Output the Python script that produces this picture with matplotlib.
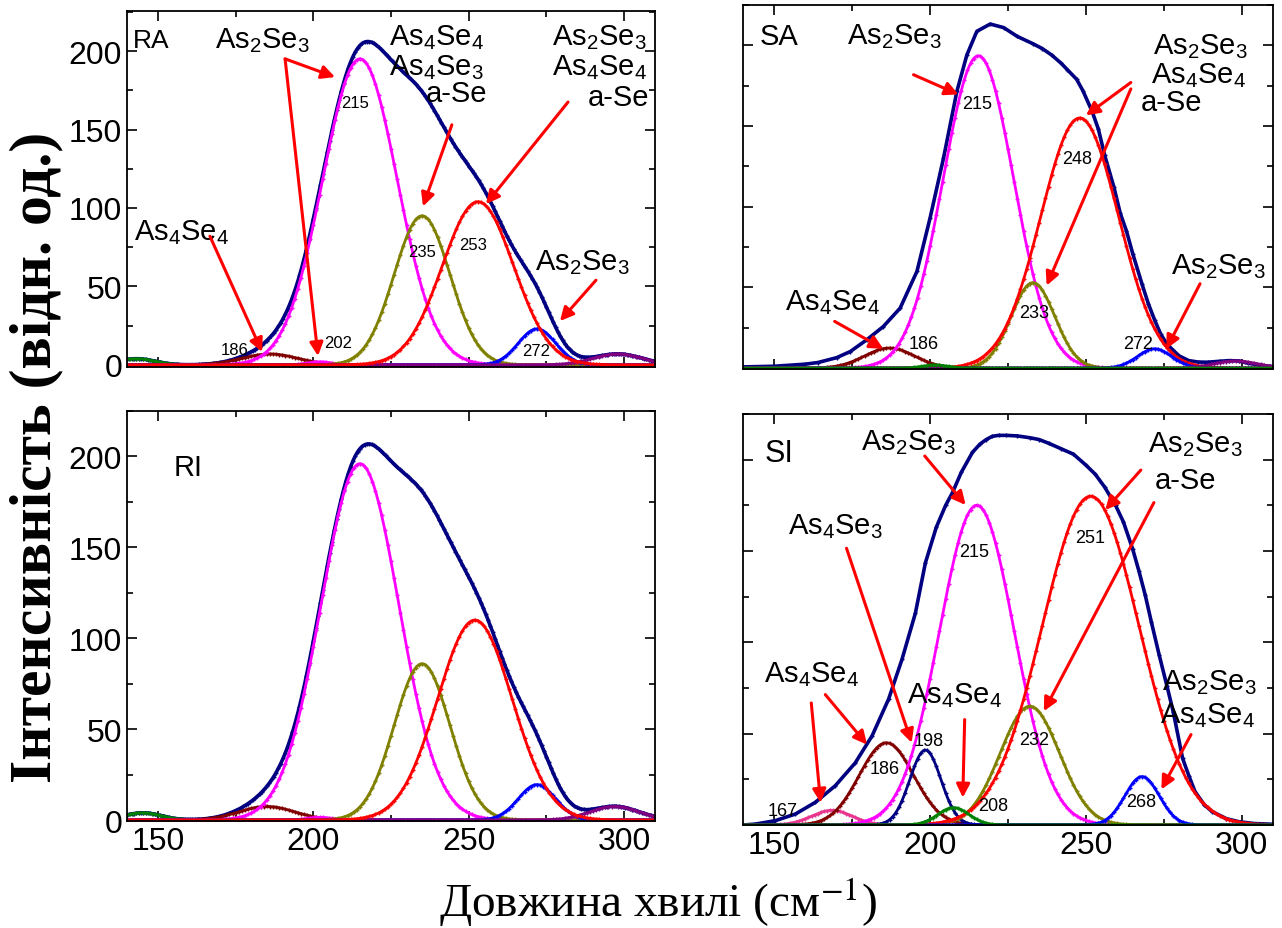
import numpy as np
import matplotlib.pyplot as plt
from matplotlib.ticker import MultipleLocator

plt.rcParams['mathtext.fontset'] = 'custom'
plt.rcParams['mathtext.rm'] = 'Liberation Sans'
plt.rcParams['mathtext.it'] = 'Liberation Sans:italic'

# Gaussian components: centre (cm-1), height, sigma
ra_centers = [143, 186, 202, 215, 235, 272, 298, 253]
ra_heights = [4, 7, 2, 195, 95, 23, 7, 104]
ra_widths = [6, 9, 4, 12, 9, 6, 8, 11.5]

ri_centers = [145, 185, 202, 215, 235, 272, 297, 252]
ri_heights = [4, 7.5, 1.5, 196, 86, 19.5, 7.5, 110]
ri_widths = [6, 9, 4, 12.5, 9, 6, 8, 12]

sa_centers = [187, 215.5, 233, 248, 272, 298, 201.5]
sa_heights = [12.5, 193.5, 53, 155, 12, 4.5, 2]
sa_widths = [8, 11.3, 7, 12.5, 5.5, 7, 4]

si_centers = [168.5, 186, 198.5, 215, 232, 251.5, 268, 207.5]
si_heights = [8, 45, 41, 175, 65, 180, 26.5, 9.5]
si_widths = [6.5, 8.7, 5, 12, 9.5, 15.5, 5.5, 5]

# measured envelopes of the S-panels (cm-1, intensity)
sa_env_x = [140, 150, 160, 164, 170, 174.4, 179.7, 185, 190.4, 195.8, 200, 204.3, 208.6,
            211.8, 215, 219.3, 223.6, 228, 233, 236, 239, 242, 244, 247, 249, 252, 254,
            256, 259, 261, 263, 265, 268, 270, 272, 274, 276, 278, 280, 283, 286, 289,
            293, 296, 299, 302, 306, 310]
sa_env_y = [0.8, 1.2, 2.5, 3.5, 6.5, 10.3, 17.6, 25.8, 37.2, 60, 93, 130, 171.5,
            194, 208.7, 213.2, 211, 205.5, 201, 198, 194, 189, 185, 179, 172, 159, 148,
            132, 112, 96, 85, 71, 52, 40, 30, 21, 15, 11, 7.5, 4.7, 3.8, 3.7,
            4.3, 4.7, 4.5, 3.1, 1.8, 1]

si_env_x = [140, 144, 150.4, 156.8, 163.2, 169.6, 176, 181.4, 186.7, 191, 195.3, 198.5,
            202, 205, 207.2, 210, 213.6, 216, 218, 220, 222, 224.5, 228, 232, 235, 238,
            242, 246, 250, 253, 256, 259.5, 262, 265, 267, 269, 271, 273.5, 276, 278,
            281, 283, 285, 288, 290.5, 295, 299, 304, 310]
si_env_y = [0, 0.5, 2.4, 6, 12.4, 21.5, 34, 48.8, 68.9, 90.7, 116, 143.5,
            163, 175, 182, 193, 204, 208.5, 211, 212.8, 213.3, 213.3, 213, 212, 211, 209,
            206, 203, 197, 192, 185, 175, 166, 151, 139, 126, 111, 93, 76, 62,
            36.5, 27, 18.2, 11, 7.3, 3.5, 1.8, 0.8, 0.4]

# styles
left_colors = ['green', '#800000', 'magenta', 'magenta', '#808000', 'blue', 'purple', 'red']
sa_colors = ['#800000', 'magenta', '#808000', 'red', 'blue', 'purple', 'green']
si_colors = ['#e8368f', '#800000', '#000080', 'magenta', '#808000', 'red', 'blue', 'green']
ENV = '#000080'

x = np.linspace(140, 310, 681)


def gauss(c, h, w):
    return h * np.exp(-(x - c) ** 2 / (2 * w ** 2))


def draw_panel(ax, centers, heights, widths, colors, ylim, env=None):
    comps = [gauss(c, h, w) for c, h, w in zip(centers, heights, widths)]
    if env is None:
        ax.plot(x, np.sum(comps, axis=0), color=ENV, lw=2.6, marker='+', ms=3, markevery=3)
    else:
        ax.plot(env[0], env[1], color=ENV, lw=2.6, marker='+', ms=3)
    for y, col in zip(comps, colors):
        ax.plot(x, y, color=col, lw=2, marker='+', ms=3, markevery=4)
    ax.set_xlim(140, 310)
    ax.set_ylim(*ylim)
    ax.xaxis.set_major_locator(MultipleLocator(50))
    ax.xaxis.set_minor_locator(MultipleLocator(25))
    ax.yaxis.set_major_locator(MultipleLocator(50))
    ax.yaxis.set_minor_locator(MultipleLocator(25))
    ax.tick_params(which='both', direction='in', top=True, right=True, width=1.2)
    ax.tick_params(which='major', length=7)
    ax.tick_params(which='minor', length=4)
    for s in ax.spines.values():
        s.set_linewidth(1.3)
    for lab in ax.get_xticklabels() + ax.get_yticklabels():
        lab.set_fontfamily(['Liberation Sans Narrow', 'Liberation Sans'])
        lab.set_fontsize(23)


def label(ax, items, size=21, **kw):
    for t, (xx, yy), ha in items:
        ax.text(xx, yy, t, fontsize=size, ha=ha, va='center', family='Liberation Sans', **kw)


def arrows(ax, items):
    for tail, tip in items:
        ax.annotate('', xy=tip, xytext=tail,
                    arrowprops=dict(arrowstyle='-|>', color='red', lw=2.2,
                                    mutation_scale=20, shrinkA=0, shrinkB=0))


A2S3 = r'As$_2$Se$_3$'
A4S4 = r'As$_4$Se$_4$'
A4S3 = r'As$_4$Se$_3$'

W = 1282
H = 929
fig = plt.figure(figsize=(W / 100, H / 100), dpi=100)


def rect(l, r, t, b):
    return [l / W, 1 - b / H, (r - l) / W, (b - t) / H]


ax_ra = fig.add_axes(rect(127, 655, 12, 368))
ax_sa = fig.add_axes(rect(743, 1273, 6, 370))
ax_ri = fig.add_axes(rect(127, 655, 412, 822))
ax_si = fig.add_axes(rect(743, 1273, 415, 826))

draw_panel(ax_ra, ra_centers, ra_heights, ra_widths, left_colors, (-1.3, 225.5))
draw_panel(ax_ri, ri_centers, ri_heights, ri_widths, left_colors, (-0.5, 225))
draw_panel(ax_sa, sa_centers, sa_heights, sa_widths, sa_colors, (-0.5, 225),
           env=(sa_env_x, sa_env_y))
draw_panel(ax_si, si_centers, si_heights, si_widths, si_colors, (0, 225),
           env=(si_env_x, si_env_y))

ax_ra.tick_params(labelbottom=False)
ax_sa.tick_params(labelbottom=False, labelleft=False)
ax_si.tick_params(labelleft=False)

# RA
label(ax_ra, [('RA', (142, 207), 'left')], size=19)
label(ax_ra, [(A2S3, (183.5, 207), 'center'), (A4S4, (239.5, 209), 'center'),
              (A4S3, (239.5, 190), 'center'), ('a-Se', (256, 173), 'right'),
              (A2S3, (292, 209), 'center'), (A4S4, (292, 190), 'center'),
              ('a-Se', (308, 171), 'right'), (A4S4, (157.7, 85), 'center'),
              (A2S3, (286.5, 66), 'center')])
label(ax_ra, [('215', (213.4, 167), 'center'), ('235', (235, 72.6), 'center'),
              ('253', (251.4, 77), 'center'), ('202', (208, 14), 'center'),
              ('186', (174.8, 9.6), 'center'), ('272', (271.7, 9), 'center')], size=12)
arrows(ax_ra, [((190.9, 195), (207, 183.4)), ((190.9, 195), (201.5, 5.7)),
               ((244.6, 153), (235.3, 101)), ((282, 167.5), (255.6, 102.5)),
               ((166.7, 82), (183.5, 8.3)), ((291, 54), (279.4, 28))])

# RI
label(ax_ri, [('RI', (155, 194), 'left')], size=21)

# SA
label(ax_sa, [('SA', (145.4, 206), 'left')], size=21)
label(ax_sa, [(A2S3, (188.7, 206), 'center'), (A2S3, (286.6, 200), 'center'),
              (A4S4, (286, 182), 'center'), ('a-Se', (267.6, 165), 'left'),
              (A4S4, (168.8, 41), 'center'), (A2S3, (292.6, 63.6), 'center')])
label(ax_sa, [('215', (215.1, 164), 'center'), ('248', (247.2, 130), 'center'),
              ('233', (233.5, 34.7), 'center'), ('186', (198, 15), 'center'),
              ('272', (266.8, 15.5), 'center')], size=13)
arrows(ax_sa, [((194.7, 181.8), (209.1, 169.6)), ((264.4, 177), (250, 156.6)),
               ((264.4, 173), (237.4, 51.2)), ((169.4, 29), (185, 12)),
               ((286.6, 52.3), (275.8, 12))])

# SI
label(ax_si, [('SI', (147, 203.5), 'left')], size=22)
label(ax_si, [(A2S3, (193, 210), 'center'), (A2S3, (285, 209), 'center'),
              ('a-Se', (282, 189), 'center'), (A4S3, (169.6, 164), 'center'),
              (A4S4, (162, 83), 'center'), (A4S4, (207.9, 71.4), 'center'),
              (A2S3, (289.7, 78.7), 'center'), (A4S4, (289, 60.5), 'center')])
label(ax_si, [('215', (214.2, 149.7), 'center'), ('251', (251.2, 157.6), 'center'),
              ('232', (233.3, 46.8), 'center'), ('198', (199.5, 46.3), 'center'),
              ('186', (185.4, 30.8), 'center'), ('208', (220.4, 10.7), 'center'),
              ('167', (152.7, 8.2), 'center'), ('268', (267.6, 13.1), 'center')], size=13)
arrows(ax_si, [((198.3, 202), (211.4, 175.2)), ((267.6, 194.3), (256.2, 172.5)),
               ((271.8, 176.5), (236.5, 62.3)), ((173.2, 151.5), (194.1, 45)),
               ((166.4, 71.4), (179.8, 44)), ((161.9, 66.8), (164.9, 12.2)),
               ((211.1, 57.7), (210.5, 15)), ((283.7, 49.5), (274.2, 19.5))])

fig.text(36 / W, 1 - 457 / H, 'Інтенсивність (відн. од.)', rotation=90,
         ha='center', va='center', fontsize=43, fontweight='bold', family='Liberation Serif')
fig.text(658 / W, 1 - 902 / H, 'Довжина хвилі (см$^{-1}$)', ha='center', va='center',
         fontsize=34, family='Liberation Serif', math_fontfamily='stix')

fig.savefig('out.png', dpi=100)
